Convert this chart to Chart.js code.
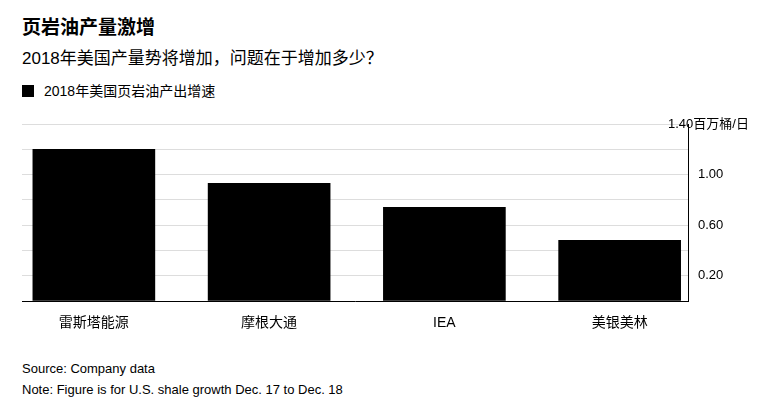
<!DOCTYPE html>
<html><head><meta charset="utf-8">
<script src="https://cdn.jsdelivr.net/npm/chart.js@4"></script>
<style>
body{margin:0;width:783px;height:410px;position:relative;background:#fff;font-family:"Liberation Sans","Noto Sans CJK SC",sans-serif;color:#000;overflow:hidden}
.t{position:absolute;left:22px;white-space:nowrap}
#c{position:absolute;left:0;top:0}
</style></head><body>
<div class="t" style="top:12px;font-size:19px;font-weight:bold">页岩油产量激增</div>
<div class="t" style="top:44px;font-size:17px">2018年美国产量势将增加，问题在于增加多少？</div>
<div class="t" style="top:80px;font-size:14px"><span style="display:inline-block;width:12px;height:12px;background:#000;vertical-align:-1px;margin-right:10px"></span>2018年美国页岩油产出增速</div>
<div class="t" style="top:361px;font-size:13px">Source: Company data</div>
<div class="t" style="top:382px;font-size:13px">Note: Figure is for U.S. shale growth Dec. 17 to Dec. 18</div>
<canvas id="c" width="783" height="410"></canvas>
<script>
const categories=["雷斯塔能源","摩根大通","IEA","美银美林"];
const growth=[1.20,0.93,0.74,0.48];
const tickLabels=["0.20","0.60","1.00"];
const unitLabel="1.40百万桶/日";
const topLab={id:"topLab",afterDraw(c){const y=c.scales.y,x=c.ctx;x.save();x.font='13px "Liberation Sans","Noto Sans CJK SC"';x.fillStyle="#000";x.textBaseline="middle";x.fillText(unitLabel,668,y.getPixelForValue(1.4));x.restore();}};
new Chart(document.getElementById("c"),{type:"bar",
data:{datasets:[{data:growth.map((v,i)=>({x:i,y:v})),backgroundColor:"#000",barThickness:122}]},
options:{responsive:false,animation:false,layout:{padding:{left:22,top:124,right:0,bottom:0}},
plugins:{legend:{display:false},tooltip:{enabled:false}},
scales:{
x:{type:"linear",offset:false,min:-0.41,max:3.39,grid:{display:false},border:{color:"#000",width:1},
ticks:{stepSize:1,autoSkip:false,maxRotation:0,color:"#000",font:{size:14,family:'"Liberation Sans","Noto Sans CJK SC"'},padding:6,callback(v){return Number.isInteger(v)?categories[v]:"";}},afterFit(s){s.height=109;}},
y:{position:"right",min:0,max:1.4,grid:{color:"#ddd",drawTicks:false},border:{color:"#000",width:1},
ticks:{stepSize:0.2,color:"#000",padding:10,font:{size:13,family:"Liberation Sans"},callback(v){const s=v.toFixed(2);return tickLabels.includes(s)?s:"";}},afterFit(s){s.width=95;}}}},
plugins:[topLab]});
</script></body></html>
